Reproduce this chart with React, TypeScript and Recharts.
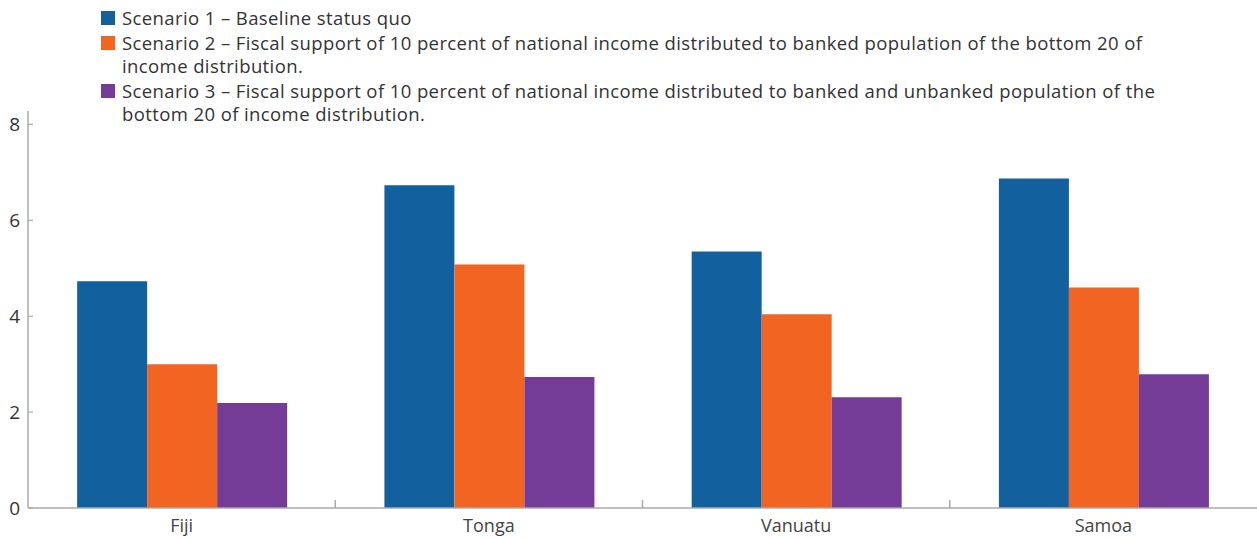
import { BarChart, Bar, XAxis, YAxis } from "recharts";

const countries = ["Fiji", "Tonga", "Vanuatu", "Samoa"];
const scenario1 = [4.73, 6.73, 5.35, 6.87];
const scenario2 = [3.0, 5.08, 4.04, 4.6];
const scenario3 = [2.19, 2.73, 2.31, 2.79];
const yTicks = [0, 2, 4, 6, 8];

const seriesNames = [
  "Scenario 1 – Baseline status quo",
  "Scenario 2 – Fiscal support of 10 percent of national income distributed to banked population of  the bottom 20 of income distribution.",
  "Scenario 3 – Fiscal support of 10 percent of national income distributed to banked and unbanked population of the bottom 20 of income distribution.",
];
const colors = ["#13609E", "#F26422", "#743B97"];

const data = countries.map((c, i) => ({
  country: c,
  s1: scenario1[i],
  s2: scenario2[i],
  s3: scenario3[i],
}));

const FONT = "'Open Sans', Lato, sans-serif";
const AXIS = "#aaaaaa";

function LegendList() {
  return (
    <div
      style={{
        position: "absolute",
        left: 101,
        top: 6,
        fontFamily: FONT,
        fontSize: 18.5,
        letterSpacing: 0.4,
        color: "#333",
        lineHeight: "23.5px",
      }}
    >
      {seriesNames.map((name, i) => (
        <div key={i} style={{ display: "flex", alignItems: "flex-start", marginBottom: 1 }}>
          <span
            style={{
              display: "inline-block",
              width: 14,
              height: 14,
              background: colors[i],
              marginTop: 5,
              marginRight: 7,
              flexShrink: 0,
            }}
          />
          <span style={{ width: 1054 }}>{name}</span>
        </div>
      ))}
    </div>
  );
}

function CountryTick(props: any) {
  const { x, y, payload, index, visibleTicksCount } = props;
  const half = payload.offset ?? 1229 / 8;
  const edge = payload.coordinate + half;
  return (
    <g>
      <text
        x={x}
        y={y + 24}
        textAnchor="middle"
        fill="#444"
        fontSize={18}
        fontFamily={FONT}
      >
        {payload.value}
      </text>
      {index < visibleTicksCount - 1 && (
        <line x1={edge} x2={edge} y1={y - 8} y2={y} stroke={AXIS} strokeWidth={1.5} />
      )}
    </g>
  );
}

export default function App() {
  return (
    <div style={{ width: 1257, height: 538, position: "relative" }}>
      <style>{"body{margin:0;background:#fff}"}</style>
      <BarChart
        width={1257}
        height={538}
        data={data}
        margin={{ top: 111, right: 0, bottom: 0, left: 0 }}
        barCategoryGap="16%"
        barGap={0}
      >
        <XAxis
          dataKey="country"
          axisLine={{ stroke: AXIS, strokeWidth: 1.5 }}
          tickLine={false}
          tickSize={0}
          tickMargin={0}
          tick={<CountryTick />}
          interval={0}
          height={30}
        />
        <YAxis
          yAxisId="left"
          width={28}
          domain={[0, 8.28]}
          ticks={yTicks}
          axisLine={{ stroke: AXIS, strokeWidth: 1.5 }}
          tickLine={{ stroke: AXIS, strokeWidth: 1.2 }}
          tickSize={-5}
          tickMargin={13}
          tick={{ fill: "#333", fontSize: 19, fontFamily: FONT }}
        />
        <YAxis
          yAxisId="right"
          orientation="right"
          width={0}
          domain={[0, 8.28]}
          ticks={[2, 4, 6, 8]}
          axisLine={false}
          tick={false}
          tickLine={{ stroke: AXIS, strokeWidth: 1.2 }}
          tickSize={-4}
        />
        <Bar yAxisId="left" dataKey="s1" name={seriesNames[0]} fill={colors[0]} isAnimationActive={false} />
        <Bar yAxisId="left" dataKey="s2" name={seriesNames[1]} fill={colors[1]} isAnimationActive={false} />
        <Bar yAxisId="left" dataKey="s3" name={seriesNames[2]} fill={colors[2]} isAnimationActive={false} />
      </BarChart>
      <LegendList />
    </div>
  );
}
